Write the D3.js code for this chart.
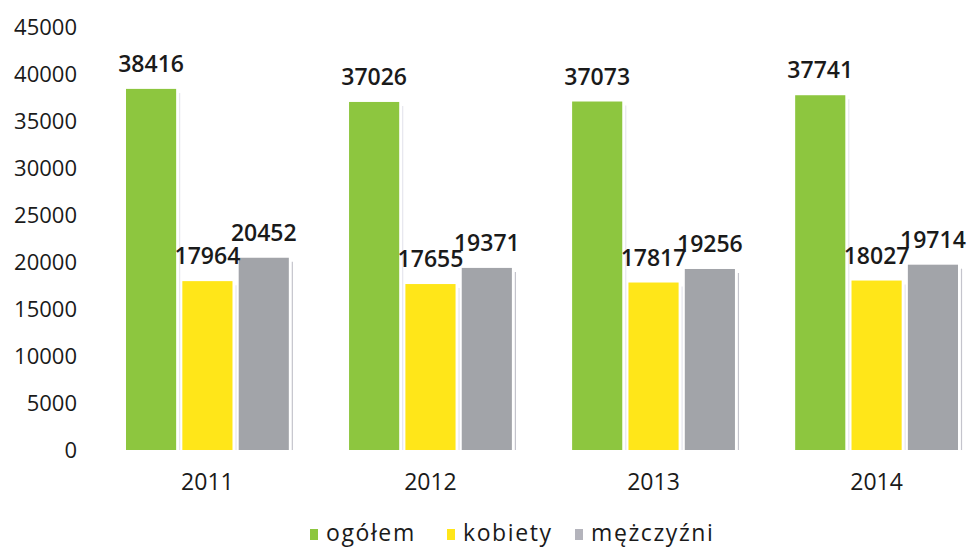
<!DOCTYPE html>
<html>
<head>
<meta charset="utf-8">
<script src="https://cdn.jsdelivr.net/npm/d3@7"></script>
<style>
  body { margin: 0; background: #fff; }
  text { font-family: "Open Sans", sans-serif; fill: #1a1a1a; }
</style>
</head>
<body>
<div id="chart"></div>
<script>
var years = ["2011", "2012", "2013", "2014"];
var series = ["ogółem", "kobiety", "mężczyźni"];
var ogolem = [38416, 37026, 37073, 37741];
var kobiety = [17964, 17655, 17817, 18027];
var mezczyzni = [20452, 19371, 19256, 19714];
var yTicks = [0, 5000, 10000, 15000, 20000, 25000, 30000, 35000, 40000, 45000];
var colors = ["#8dc63f", "#ffe619", "#a2a4a9"];
var legendColors = ["#8dc63f", "#ffe619", "#b4b4bc"];

var width = 970, height = 548;

var values = [ogolem, kobiety, mezczyzni];
var data = years.map(function(y, i) {
  return { year: y, vals: series.map(function(s, j) { return { s: s, j: j, v: values[j][i] }; }) };
});

var svg = d3.select("#chart").append("svg")
    .attr("width", width)
    .attr("height", height);

var x = d3.scaleBand()
    .domain(years)
    .range([126, 958])
    .paddingInner(0.27)
    .paddingOuter(0);

var xs = d3.scaleBand()
    .domain(series)
    .range([0, x.bandwidth()])
    .paddingInner(0.11);

var y = d3.scaleLinear()
    .domain([0, 45000])
    .range([450, 27]);

// y axis labels (no line)
var yAxis = d3.axisLeft(y).tickValues(yTicks).tickSize(0).tickPadding(0)
    .tickFormat(function(d) { return d; });
var ya = svg.append("g")
    .attr("transform", "translate(77,0)")
    .call(yAxis);
ya.select(".domain").remove();
ya.selectAll("text")
    .style("font-family", "'Open Sans', sans-serif")
    .style("font-size", "22px")
    .attr("fill", "#222")
    .attr("dy", "0.34em");

var g = svg.selectAll(".grp")
    .data(data)
  .enter().append("g")
    .attr("class", "grp")
    .attr("transform", function(d) { return "translate(" + x(d.year) + ",0)"; });

// faint shadow lines right of bars
g.selectAll(".shade")
    .data(function(d) { return d.vals; })
  .enter().append("line")
    .attr("x1", function(d) { return xs(d.s) + xs.bandwidth() + 3.5; })
    .attr("x2", function(d) { return xs(d.s) + xs.bandwidth() + 3.5; })
    .attr("y1", function(d) { return y(d.v) + 4; })
    .attr("y2", y(0))
    .attr("stroke", function(d) { return d.j === 2 ? "#c4c4cc" : "#e6e6ee"; })
    .attr("stroke-width", 1.2);

g.selectAll(".bar")
    .data(function(d) { return d.vals; })
  .enter().append("rect")
    .attr("class", "bar")
    .attr("x", function(d) { return xs(d.s); })
    .attr("y", function(d) { return y(d.v); })
    .attr("width", xs.bandwidth())
    .attr("height", function(d) { return y(0) - y(d.v); })
    .attr("fill", function(d) { return colors[d.j]; });

g.selectAll(".lbl")
    .data(function(d) { return d.vals; })
  .enter().append("text")
    .attr("class", "lbl")
    .attr("x", function(d) { return xs(d.s) + xs.bandwidth() / 2; })
    .attr("y", function(d) { return y(d.v) - 17; })
    .attr("text-anchor", "middle")
    .style("font-size", "23px")
    .style("font-weight", 600)
    .text(function(d) { return d.v; });

// year labels
svg.selectAll(".year")
    .data(years)
  .enter().append("text")
    .attr("class", "year")
    .attr("x", function(d) { return x(d) + x.bandwidth() / 2; })
    .attr("y", 490)
    .attr("text-anchor", "middle")
    .style("font-size", "23px")
    .text(function(d) { return d; });

// legend
var legendX = [310, 447, 575];
var lg = svg.selectAll(".leg")
    .data(series)
  .enter().append("g")
    .attr("class", "leg")
    .attr("transform", function(d, i) { return "translate(" + legendX[i] + ",0)"; });
lg.append("rect")
    .attr("x", 0).attr("y", 529)
    .attr("width", 8).attr("height", 11)
    .attr("fill", function(d, i) { return legendColors[i]; });
lg.append("text")
    .attr("x", 16).attr("y", 541)
    .style("font-size", "23px")
    .style("letter-spacing", "1.6px")
    .text(function(d) { return d; });
</script>
</body>
</html>
